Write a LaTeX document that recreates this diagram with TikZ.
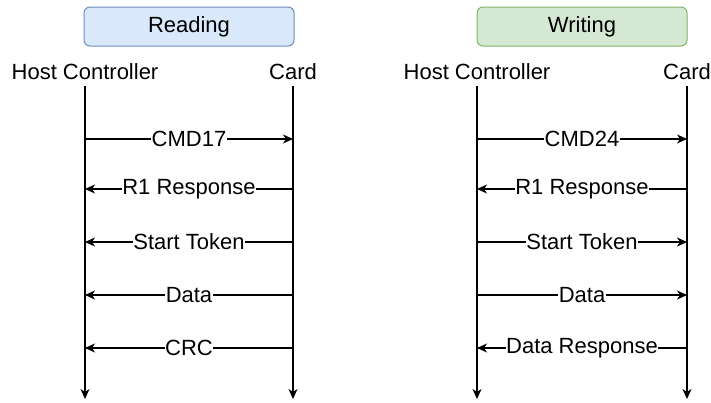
\documentclass[tikz,border=0pt]{standalone}
\usepackage{fontspec}
\setmainfont{Liberation Sans}
\usetikzlibrary{arrows.meta}
\begin{document}
\begin{tikzpicture}[x=1pt,y=-1pt,
  every node/.style={font=\fontsize{22}{26}\selectfont},
  phasebox/.style={draw, rounded corners=6pt, line width=1pt, minimum width=210pt, minimum height=39pt},
  readbox/.style={phasebox, fill={rgb,255:red,218;green,232;blue,252}, draw={rgb,255:red,108;green,142;blue,191}},
  writebox/.style={phasebox, fill={rgb,255:red,213;green,232;blue,212}, draw={rgb,255:red,130;green,179;blue,102}},
  party/.style={inner sep=0pt},
  tip/.style={-{Stealth[length=10pt,width=9pt,inset=3pt]}},
  lifeline/.style={tip, line width=1.2pt},
  msg/.style={tip, line width=1.2pt},
  msglabel/.style={fill=white, inner sep=0.5pt, midway}
]
\useasboundingbox (0,0) rectangle (711,402);

% Phase titles
\node[readbox]  (reading) at (189,26.5) {Reading};
\node[writebox] (writing) at (582,26.5) {Writing};

% Participants
\node[party] (hcR) at (85,72) {Host Controller};
\node[party] (cdR) at (293,72) {Card};
\node[party] (hcW) at (477,72) {Host Controller};
\node[party] (cdW) at (687,72) {Card};

% Lifeline ends
\coordinate (top) at (0,86);
\coordinate (bot) at (0,399);
\draw[lifeline] (hcR |- top) -- (hcR |- bot);
\draw[lifeline] (cdR |- top) -- (cdR |- bot);
\draw[lifeline] (hcW |- top) -- (hcW |- bot);
\draw[lifeline] (cdW |- top) -- (cdW |- bot);

% Message rows
\coordinate (m1) at (0,139);
\coordinate (m2) at (0,189);
\coordinate (m3) at (0,242);
\coordinate (m4) at (0,295);
\coordinate (m5) at (0,348);

% Reading sequence
\draw[msg] (hcR |- m1) -- node[msglabel] {CMD17} (cdR |- m1);
\draw[msg] (cdR |- m2) -- node[msglabel] {R1 Response} (hcR |- m2);
\draw[msg] (cdR |- m3) -- node[msglabel] {Start Token} (hcR |- m3);
\draw[msg] (cdR |- m4) -- node[msglabel] {Data} (hcR |- m4);
\draw[msg] (cdR |- m5) -- node[msglabel] {CRC} (hcR |- m5);

% Writing sequence
\draw[msg] (hcW |- m1) -- node[msglabel] {CMD24} (cdW |- m1);
\draw[msg] (cdW |- m2) -- node[msglabel] {R1 Response} (hcW |- m2);
\draw[msg] (hcW |- m3) -- node[msglabel] {Start Token} (cdW |- m3);
\draw[msg] (hcW |- m4) -- node[msglabel] {Data} (cdW |- m4);
\draw[msg] (cdW |- m5) -- node[msglabel] {Data Response} (hcW |- m5);
\end{tikzpicture}
\end{document}
